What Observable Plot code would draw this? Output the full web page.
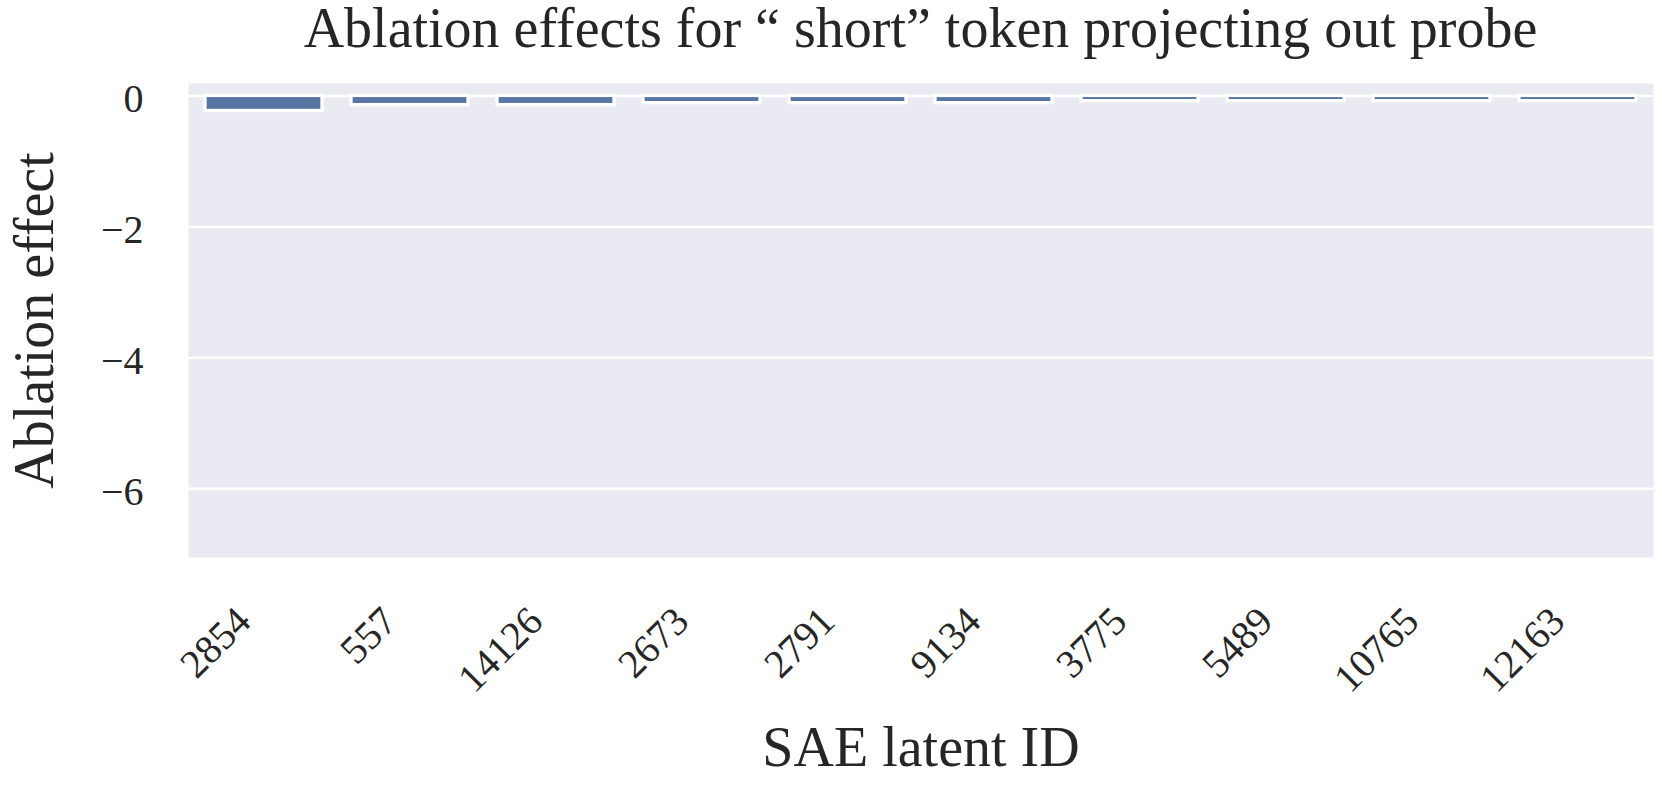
<!DOCTYPE html>
<html>
<head>
<meta charset="utf-8">
<script src="https://cdn.jsdelivr.net/npm/d3@7"></script>
<script src="https://cdn.jsdelivr.net/npm/@observablehq/plot@0.6"></script>
<style>
  html, body { margin: 0; padding: 0; background: #fff; }
  #title {
    width: 1662px; height: 70px; box-sizing: border-box;
    padding-left: 188px; padding-right: 9px;
    text-align: center; font-family: "Liberation Serif", "Times New Roman", serif;
    font-size: 56px; line-height: 56px; color: #262626; white-space: nowrap;
  }
  #chart svg { display: block; }
</style>
</head>
<body>
<div id="title"></div>
<div id="chart"></div>
<script>
const titleText = "Ablation effects for \u201c short\u201d token projecting out probe";
const xLabel = "SAE latent ID";
const yLabel = "Ablation effect";
const latentIds = ["2854", "557", "14126", "2673", "2791", "9134", "3775", "5489", "10765", "12163"];
const ablationEffects = [-0.23, -0.14, -0.14, -0.11, -0.11, -0.11, -0.08, -0.08, -0.08, -0.08];
const yTicks = [0, -2, -4, -6];
const yDomain = [-7.05, 0.19];

document.getElementById("title").textContent = titleText;

const data = latentIds.map((id, i) => ({id, value: ablationEffects[i]}));
const font = "Liberation Serif, Times New Roman, serif";
const ink = "#262626";
const fmt = d => (d < 0 ? "\u2212" : "") + Math.abs(d);

const chart = Plot.plot({
  width: 1662,
  height: 715,
  marginTop: 13,
  marginRight: 9,
  marginBottom: 228,
  marginLeft: 188,
  style: {fontFamily: font, color: ink, background: "white"},
  x: {type: "band", domain: latentIds, paddingInner: 0.2, paddingOuter: 0.1, axis: null},
  y: {domain: yDomain, axis: null},
  marks: [
    Plot.frame({fill: "#eaeaf2", stroke: null}),
    Plot.gridY(yTicks, {stroke: "white", strokeOpacity: 1, strokeWidth: 2.5}),
    Plot.barY(data, {x: "id", y: "value", fill: "#5975a4", stroke: "white", strokeWidth: 3.3}),
    Plot.axisY(yTicks, {tickSize: 0, tickPadding: 45, fontSize: 40, dy: 3, label: null, tickFormat: fmt, fill: ink, fontFamily: font}),
    Plot.text(latentIds, {x: d => d, frameAnchor: "bottom", rotate: -45, textAnchor: "end", lineAnchor: "bottom",
      dx: -11, dy: 66, fontSize: 40, fill: ink, fontFamily: font}),
    Plot.text([xLabel], {frameAnchor: "bottom", dy: 208, lineAnchor: "bottom", textAnchor: "middle",
      fontSize: 56, fill: ink, fontFamily: font}),
    Plot.text([yLabel], {frameAnchor: "left", dx: -136, rotate: -90, lineAnchor: "bottom", textAnchor: "middle",
      fontSize: 56, fill: ink, fontFamily: font})
  ]
});
document.getElementById("chart").appendChild(chart);
</script>
</body>
</html>
